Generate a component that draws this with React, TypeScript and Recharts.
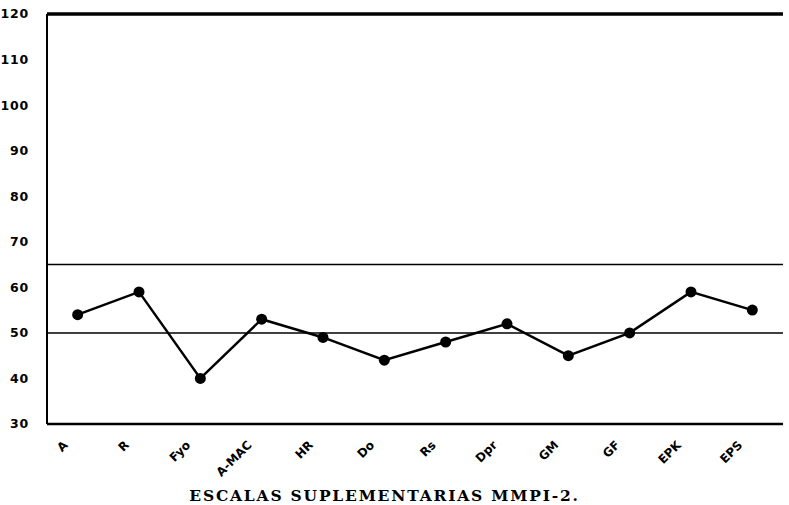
import React from 'react';
import { LineChart, Line, XAxis, YAxis, ReferenceLine } from 'recharts';

const categories = ['A', 'R', 'Fyo', 'A-MAC', 'HR', 'Do', 'Rs', 'Dpr', 'GM', 'GF', 'EPK', 'EPS'];
const scores = [54, 59, 40, 53, 49, 44, 48, 52, 45, 50, 59, 55];
const yTicks = [30, 40, 50, 60, 70, 80, 90, 100, 110, 120];
const refLevels = [65, 50];
const title = 'ESCALAS SUPLEMENTARIAS MMPI-2.';

const data = categories.map((c, i) => ({ name: c, value: scores[i] }));

const renderXTick = (props: any) => {
  const { x, y, payload } = props;
  return (
    <g transform={`translate(${x - 12},${y + 11}) rotate(-45)`}>
      <text
        x={0}
        y={0}
        dy={4}
        textAnchor="end"
        fontFamily="'DejaVu Sans', Arial, sans-serif"
        fontWeight="bold"
        fontSize={12}
        fill="#000"
      >
        {payload.value}
      </text>
    </g>
  );
};

export default function App() {
  return (
    <div style={{ position: 'absolute', left: 0, top: 0, width: 789, height: 505, background: '#fff', overflow: 'hidden' }}>
      <LineChart width={789} height={505} data={data} margin={{ top: 14, right: 6, left: 0, bottom: 21 }}>
        <XAxis
          dataKey="name"
          scale="band"
          tick={renderXTick}
          tickLine={false}
          interval={0}
          height={60}
          axisLine={{ stroke: '#000', strokeWidth: 2.5 }}
        />
        <YAxis
          domain={[30, 120]}
          ticks={yTicks}
          width={47}
          tickLine={false}
          axisLine={{ stroke: '#000', strokeWidth: 2 }}
          tickMargin={12}
          tick={{ fill: '#000', fontSize: 12.5, fontWeight: 'bold', letterSpacing: 0.8, fontFamily: "'DejaVu Sans', Arial, sans-serif" }}
        />
        <YAxis
          yAxisId="r"
          orientation="right"
          domain={[30, 120]}
          ticks={yTicks}
          width={0}
          tick={false}
          tickLine={false}
          axisLine={{ stroke: '#000', strokeWidth: 3 }}
        />
        <ReferenceLine y={120} stroke="#000" strokeWidth={3.5} />
        {refLevels.map((v) => (
          <ReferenceLine key={v} y={v} stroke="#000" strokeWidth={1.5} />
        ))}
        <Line
          type="linear"
          dataKey="value"
          stroke="#000"
          strokeWidth={2.5}
          dot={{ r: 5.5, fill: '#000', stroke: '#000', strokeWidth: 0 }}
          isAnimationActive={false}
        />
      </LineChart>
      <div
        style={{
          position: 'absolute',
          left: -10,
          width: 789,
          top: 488,
          textAlign: 'center',
          fontFamily: "'DejaVu Serif', 'Liberation Serif', serif",
          fontWeight: 'bold',
          fontSize: 15.5,
          letterSpacing: 1.8,
          color: '#000',
          lineHeight: '16px',
        }}
      >
        {title}
      </div>
    </div>
  );
}
